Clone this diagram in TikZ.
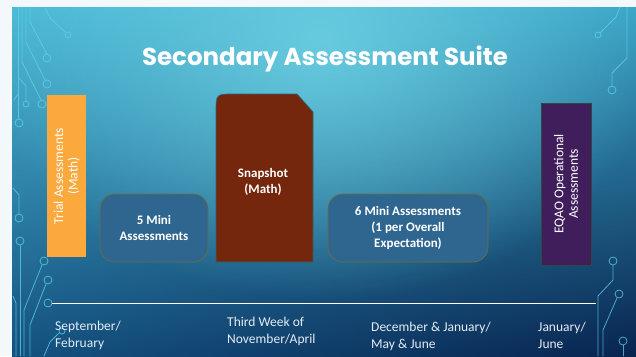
\documentclass[tikz,border=0pt]{standalone}
\usepackage{fontspec}
\setmainfont{Carlito}
\newfontfamily\titlefont{Poppins}
\usetikzlibrary{positioning,fadings,shadings}
\tikzfading[name=glowfade, inner color=transparent!0, outer color=transparent!100]
\definecolor{bgpale}{HTML}{F2F8FB}
\definecolor{bgtl}{HTML}{4BB9D5}
\definecolor{bgtr}{HTML}{3AA4C6}
\definecolor{bgbl}{HTML}{14517F}
\definecolor{bgbr}{HTML}{08244F}
\definecolor{glow}{HTML}{6CCFE2}
\definecolor{trialorange}{HTML}{FBA83C}
\definecolor{miniblue}{HTML}{2F6690}
\definecolor{miniborder}{HTML}{6E6C3C}
\definecolor{snapbrown}{HTML}{75270D}
\definecolor{snapborder}{HTML}{2E6474}
\definecolor{eqaopurple}{HTML}{3F1E5B}
\definecolor{eqaoborder}{HTML}{2E4A40}
\definecolor{wirecyan}{HTML}{5FD3EC}
\definecolor{datetext}{HTML}{E4ECF2}
\begin{document}
\begin{tikzpicture}[x=1pt,y=-1pt,
  bar/.style = {rotate=90, minimum width=162pt, inner sep=0pt, text=white, align=center, font=\fontsize{13.5}{14.5}\selectfont},
  mini/.style = {draw=miniborder, line width=0.7pt, fill=miniblue, rounded corners=15pt, minimum height=68pt, text=white, align=center, font=\bfseries\fontsize{13}{16}\selectfont},
  date/.style = {anchor=north west, inner sep=0pt, align=left, text=datetext, font=\fontsize{13.5}{17}\selectfont},
  wire/.style = {draw=wirecyan, line width=0.8pt, opacity=0.75},
  pad/.style = {draw=wirecyan, line width=0.8pt, opacity=0.75}]
  % background
  \fill[bgpale] (0,0) rectangle (636,356);
  \shade[upper left=bgtl, upper right=bgtr, lower left=bgbl, lower right=bgbr] (12,7) rectangle (636,356);
  \begin{scope}
    \clip (12,7) rectangle (636,356);
    \fill[glow, path fading=glowfade, fill opacity=0.9] (320,40) ellipse (340 and 260);
  \end{scope}
  % circuit wires, left
  \draw[wire] (45,7) -- (50,18) -- (65,32);
  \draw[pad] (68,35) circle (3);
  \draw[wire] (30,7) -- (30,22) -- (47,54);
  \draw[pad] (47,58) circle (4);
  \draw[wire] (26,7) -- (26,42) -- (45,80);
  \draw[pad] (47,84) circle (4);
  \draw[wire] (22,7) -- (22,62) -- (41,100);
  \draw[pad] (42,104) circle (4);
  \draw[wire] (19,78) -- (26,86) -- (26,101);
  \draw[pad] (26,104) circle (3);
  \draw[wire] (14,100) -- (18,94);
  \draw[wire] (18,7) -- (18,119);
  \draw[pad] (19,123) circle (4);
  \draw[wire] (13,188) -- (19,195) -- (19,214);
  \draw[pad] (19,218) circle (4);
  \draw[pad] (20,241) circle (4);
  \draw[wire] (20,245) -- (20,356);
  \draw[pad] (44,261) circle (4);
  \draw[wire] (42,265) -- (24,310) -- (24,356);
  \draw[pad] (48,280) circle (4);
  \draw[wire] (46,284) -- (30,325) -- (30,356);
  \draw[wire] (13,296) -- (16,303) -- (16,356);
  \draw[wire] (44,356) -- (50,342) -- (59,333);
  \draw[pad] (62,331) circle (3);
  % circuit wires, right
  \draw[wire] (620,7) -- (616,17) -- (600,33);
  \draw[pad] (598,35) circle (3);
  \draw[wire] (627,7) -- (627,58) -- (612,73) -- (612,86);
  \draw[pad] (612,90) circle (4);
  \draw[pad] (613,261) circle (4);
  \draw[wire] (613,265) -- (613,280) -- (598,296) -- (598,356);
  \draw[pad] (619,294) circle (4);
  \draw[wire] (617,298) -- (603,330) -- (603,356);
  \draw[pad] (623,341) circle (4);
  \draw[wire] (623,345) -- (623,356);
  % title
  \node[text=white, font=\titlefont\bfseries\fontsize{24.5}{28}\selectfont] (title) at (325,59) {Secondary Assessment Suite};
  % assessments
  \node[bar, fill=trialorange, minimum height=39pt] (trial) at (66.5,176) {Trial Assessments\\(Math)};
  \node[mini, minimum width=108pt] (fivemini) at (154,228) {5 Mini\\Assessments};
  \draw[snapborder, line width=0.7pt, fill=snapbrown] (216,262) -- (216,112) .. controls (216,94) .. (234,94) -- (297,94) -- (313,112) -- (313,262) -- cycle;
  \node[text=white, align=center, font=\bfseries\fontsize{13}{16}\selectfont] (snapshot) at (263,182) {Snapshot\\(Math)};
  \node[mini, minimum width=160pt] (sixmini) at (408,228) {6 Mini Assessments\\(1 per Overall\\Expectation)};
  \node[bar, fill=eqaopurple, draw=eqaoborder, line width=0.7pt, minimum height=50pt] (eqao) at (566,184) {EQAO Operational\\Assessments};
  % timeline
  \coordinate (tlstart) at (52,303);
  \coordinate (tlend) at (596,303);
  \draw[pad] (48,303) circle (4);
  \draw[white, line width=1pt] (tlstart) -- (tlend);
  \node[date] (sepfeb) at (55,321) {September/\\February};
  \node[date] (novapr) at (227,317) {Third Week of\\November/April};
  \node[date] (decjun) at (371,322) {December \& January/\\May \& June};
  \node[date] (janjun) at (538,322) {January/\\June};
\end{tikzpicture}
\end{document}
